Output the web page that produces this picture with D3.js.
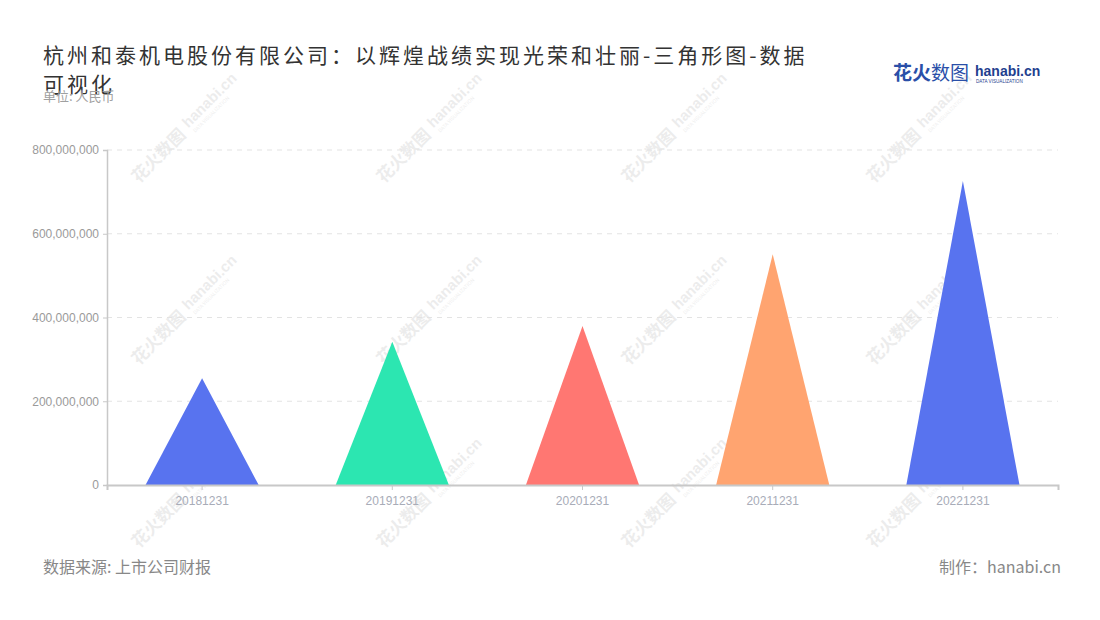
<!DOCTYPE html>
<html>
<head>
<meta charset="utf-8">
<script src="https://cdn.jsdelivr.net/npm/d3@7"></script>
<style>
  body { margin: 0; background: #fff; }
  svg { font-family: "Noto Sans CJK SC", "Noto Sans", sans-serif; }
</style>
</head>
<body>
<div id="chart"></div>
<script>
// data
const years = ["20181231", "20191231", "20201231", "20211231", "20221231"];
const values = [255000000, 342000000, 380000000, 551000000, 726000000];
const colors = ["#5873EF", "#2CE6B1", "#FF7772", "#FFA470", "#5873EF"];
const yTicks = [0, 200000000, 400000000, 600000000, 800000000];

const width = 1100, height = 620;
const margin = {left: 107, right: 42, top: 150, bottom: 135};

const svg = d3.select("#chart").append("svg")
  .attr("width", width)
  .attr("height", height);

// watermark grid
const wm = svg.append("g");
[184, 429, 674, 919].forEach(function (cx) {
  [130, 312, 495].forEach(function (cy) {
    const g = wm.append("g")
      .attr("transform", `translate(${cx},${cy}) rotate(-45)`)
      .attr("opacity", 0.07);
    g.append("text").attr("x", -70).attr("y", 6)
      .attr("font-size", 17).attr("font-weight", "bold").attr("fill", "#000")
      .text("花火数图");
    g.append("text").attr("x", 4).attr("y", 2)
      .attr("font-size", 15).attr("font-weight", "bold").attr("fill", "#000")
      .attr("font-family", "Arial, 'Liberation Sans', sans-serif")
      .text("hanabi.cn");
    g.append("text").attr("x", 6).attr("y", 10)
      .attr("font-size", 5).attr("fill", "#000")
      .text("DATA VISUALIZATION");
  });
});

const x = d3.scaleBand()
  .domain(years)
  .range([margin.left, width - margin.right]);

const y = d3.scaleLinear()
  .domain([0, 800000000])
  .range([height - margin.bottom, margin.top]);

// grid lines
svg.append("g")
  .selectAll("line")
  .data(yTicks.slice(1))
  .enter()
  .append("line")
  .attr("x1", margin.left)
  .attr("x2", width - margin.right)
  .attr("y1", d => y(d))
  .attr("y2", d => y(d))
  .attr("stroke", "#e3e3e3")
  .attr("stroke-dasharray", "5,5");

// y axis
const yAxis = svg.append("g")
  .attr("transform", `translate(${margin.left},0)`)
  .call(d3.axisLeft(y).tickValues(yTicks).tickFormat(d3.format(",")).tickSize(4));
yAxis.selectAll("text").attr("fill", "#9a9a9a").attr("font-size", 12).attr("dx", -1);
yAxis.selectAll("line").attr("stroke", "#c8c8c8");
yAxis.select(".domain").attr("stroke", "#c8c8c8").attr("stroke-width", 1.5);

// triangles
const baseW = x.bandwidth() * 0.595;
svg.append("g")
  .selectAll("path")
  .data(years)
  .enter()
  .append("path")
  .attr("d", function (d, i) {
    const cx = x(d) + x.bandwidth() / 2;
    return `M${cx - baseW / 2},${y(0)} L${cx},${y(values[i])} L${cx + baseW / 2},${y(0)} Z`;
  })
  .attr("fill", (d, i) => colors[i]);

// x axis
const xAxis = svg.append("g")
  .attr("transform", `translate(0,${y(0)})`)
  .call(d3.axisBottom(x).tickSize(5).tickPadding(6));
xAxis.selectAll("text").attr("fill", "#a8acb8").attr("font-size", 12);
xAxis.selectAll("line").attr("stroke", "#c8c8c8");
xAxis.select(".domain").attr("stroke", "#c8c8c8").attr("stroke-width", 2);

// title
svg.append("text")
  .attr("x", 43).attr("y", 63)
  .attr("font-size", 21).attr("fill", "#333")
  .attr("letter-spacing", 3)
  .text("杭州和泰机电股份有限公司：以辉煌战绩实现光荣和壮丽-三角形图-数据");
svg.append("text")
  .attr("x", 43).attr("y", 92)
  .attr("font-size", 21).attr("fill", "#333")
  .attr("letter-spacing", 3)
  .text("可视化");
svg.append("text")
  .attr("x", 43).attr("y", 101)
  .attr("font-size", 13).attr("fill", "#a0a0a0")
  .text("单位: 人民币");

// logo
svg.append("text")
  .attr("x", 893).attr("y", 80)
  .attr("font-size", 19).attr("font-weight", "bold").attr("fill", "#2a4fa8")
  .text("花火");
svg.append("text")
  .attr("x", 931).attr("y", 80)
  .attr("font-size", 19).attr("fill", "#2a4fa8")
  .text("数图");
svg.append("text")
  .attr("x", 975).attr("y", 76)
  .attr("font-size", 14).attr("font-weight", "bold").attr("fill", "#1f3f8f")
  .attr("font-family", "Arial, 'Liberation Sans', sans-serif")
  .text("hanabi.cn");
svg.append("text")
  .attr("x", 976).attr("y", 83)
  .attr("font-size", 4.6).attr("fill", "#1f3f8f")
  .attr("font-family", "Arial, 'Liberation Sans', sans-serif")
  .text("DATA VISUALIZATION");

// footer
svg.append("text")
  .attr("x", 43).attr("y", 573)
  .attr("font-size", 16).attr("fill", "#888")
  .text("数据来源: 上市公司财报");
svg.append("text")
  .attr("x", 1061).attr("y", 573)
  .attr("text-anchor", "end")
  .attr("font-size", 16).attr("fill", "#888")
  .text("制作：hanabi.cn");
</script>
</body>
</html>
